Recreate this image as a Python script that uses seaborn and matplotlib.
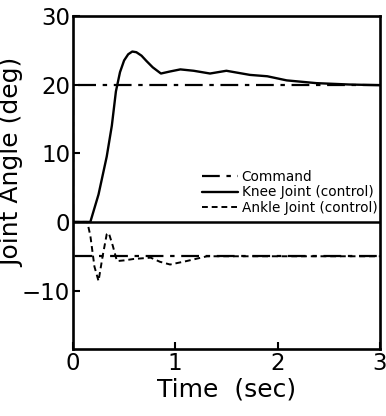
import matplotlib
matplotlib.use("Agg")
import matplotlib.pyplot as plt
import seaborn as sns
import pandas as pd

# Knee joint response (deg)
knee_t = [0.0, 0.10, 0.17, 0.25, 0.33, 0.38, 0.42, 0.46, 0.50, 0.54, 0.58, 0.62, 0.67,
          0.72, 0.78, 0.86, 0.95, 1.05, 1.18, 1.34, 1.50, 1.73, 1.90, 2.09, 2.38, 2.70, 3.0]
knee_y = [0.0, 0.0, 0.0, 4.0, 9.5, 14.0, 19.0, 21.8, 23.5, 24.4, 24.8, 24.7, 24.2,
          23.4, 22.5, 21.6, 21.9, 22.2, 22.0, 21.6, 22.0, 21.4, 21.2, 20.6, 20.2, 20.0, 19.9]

# Ankle joint response (deg)
ankle_t = [0.0, 0.14, 0.17, 0.21, 0.25, 0.29, 0.33, 0.35, 0.39, 0.43, 0.50, 0.59,
           0.76, 0.85, 0.95, 1.11, 1.31, 1.60, 2.00, 2.50, 3.0]
ankle_y = [0.0, 0.0, -2.0, -6.5, -8.6, -5.0, -1.8, -1.6, -3.5, -5.7, -5.6, -5.4,
           -5.2, -5.8, -6.2, -5.7, -5.0, -5.0, -5.0, -5.0, -5.0]

# Command signals (deg)
cmd_t = [0.0, 0.0, 3.0]
cmd_knee = [0.0, 20.0, 20.0]
cmd_ankle = [0.0, -5.0, -5.0]

sns.set_style("ticks")
plt.rcParams["font.family"] = ["DejaVu Sans"]
plt.rcParams["text.color"] = "black"
plt.rcParams["axes.labelcolor"] = "black"

fig, ax = plt.subplots(figsize=(3.86, 4.16), dpi=100)
fig.subplots_adjust(left=0.189, right=0.984, bottom=0.161, top=0.962)

ax.axhline(0, color="black", lw=1.8, zorder=1)

dashdot = (0, (8, 3, 2, 3))
sns.lineplot(x=cmd_t, y=cmd_knee, ax=ax, color="black", lw=1.6, estimator=None,
             linestyle=dashdot, sort=False, label="Command")
sns.lineplot(x=knee_t, y=knee_y, ax=ax, color="black", lw=1.7, estimator=None,
             label="Knee Joint (control)")
sns.lineplot(x=ankle_t, y=ankle_y, ax=ax, color="black", lw=1.4, estimator=None,
             linestyle=(0, (3, 2)), label="Ankle Joint (control)")
sns.lineplot(x=cmd_t, y=cmd_ankle, ax=ax, color="black", lw=1.6, estimator=None,
             linestyle=dashdot, sort=False)

ax.set_xlim(0, 3)
ax.set_ylim(-18.5, 30)
ax.set_xticks([0, 1, 2, 3])
ax.set_yticks([-10, 0, 10, 20, 30])
ax.tick_params(direction="in", length=5, width=1.5, labelsize=16.5, colors="black", pad=2)
for s in ax.spines.values():
    s.set_linewidth(1.9)
    s.set_color("black")

ax.set_xlabel("Time  (sec)", fontsize=18, labelpad=2)
ax.set_ylabel("Joint Angle (deg)", fontsize=18)
ax.yaxis.set_label_coords(-0.16, 0.56)

leg = ax.legend(loc="center right", bbox_to_anchor=(1.01, 0.47), frameon=False,
                fontsize=9.8, handlelength=2.6, handletextpad=0.3,
                labelspacing=0.1, borderaxespad=0)

fig.savefig("out.png", dpi=100)
